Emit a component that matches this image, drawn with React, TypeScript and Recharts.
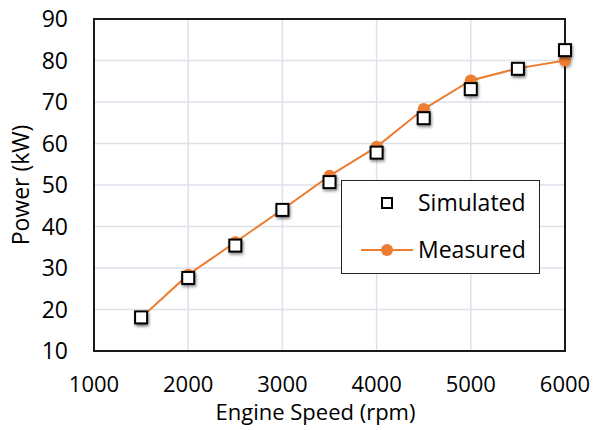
import React from "react";
import {
  ComposedChart,
  Line,
  XAxis,
  YAxis,
  CartesianGrid,
  ReferenceArea,
} from "recharts";

const speeds = [1500, 2000, 2500, 3000, 3500, 4000, 4500, 5000, 5500, 6000];
const simulated = [18.1, 27.6, 35.4, 44.0, 50.7, 57.8, 66.1, 73.1, 78.0, 82.5];
const measured = [18.0, 28.4, 36.2, 44.1, 52.2, 59.2, 68.3, 75.2, 78.1, 80.0];
const xTicks = [1000, 2000, 3000, 4000, 5000, 6000];
const yTicks = [10, 20, 30, 40, 50, 60, 70, 80, 90];
const seriesNames = ["Simulated", "Measured"];

const data = speeds.map((s, i) => ({ speed: s, sim: simulated[i], meas: measured[i] }));

const ORANGE = "#ED7D31";
const FONT = "'Open Sans', sans-serif";

const SquareDot = (props: any) => {
  const { cx, cy, index } = props;
  if (cx == null || cy == null) return null;
  return (
    <rect
      key={`sq-${index}`}
      x={cx - 6}
      y={cy - 6}
      width={12}
      height={12}
      fill="#fff"
      stroke="#000"
      strokeWidth={2}
      style={{ filter: "drop-shadow(1px 2px 1.5px rgba(0,0,0,0.45))" }}
    />
  );
};

const CircleDot = (props: any) => {
  const { cx, cy, index } = props;
  if (cx == null || cy == null) return null;
  return (
    <circle
      key={`c-${index}`}
      cx={cx}
      cy={cy}
      r={6}
      fill={ORANGE}
      stroke="none"
      style={{ filter: "drop-shadow(1px 2px 1.5px rgba(0,0,0,0.35))" }}
    />
  );
};

const LegendBox = () => (
  <svg width={199} height={94} style={{ display: "block" }}>
    <rect x={0.5} y={0.5} width={198} height={93} fill="#fff" stroke="#222" strokeWidth={1} />
    <rect x={41} y={18} width={10} height={10} fill="#fff" stroke="#000" strokeWidth={2} />
    <text x={77} y={31} fontFamily={FONT} fontSize={23} fill="#000">{seriesNames[0]}</text>
    <line x1={20} y1={70} x2={72} y2={70} stroke={ORANGE} strokeWidth={2} />
    <circle cx={46} cy={70} r={6} fill={ORANGE} />
    <text x={77} y={78} fontFamily={FONT} fontSize={23} fill="#000">{seriesNames[1]}</text>
  </svg>
);

export default function App() {
  return (
    <div style={{ position: "absolute", left: 0, top: 0, width: 593, height: 430, background: "#fff" }}>
      <ComposedChart
        width={593}
        height={430}
        data={data}
        margin={{ top: 19, right: 28, left: 0, bottom: 0 }}
      >
        <CartesianGrid stroke="#dde1e8" strokeWidth={1.5} />
        <XAxis
          dataKey="speed"
          type="number"
          domain={[1000, 6000]}
          ticks={xTicks}
          interval={0}
          height={79}
          axisLine={false}
          tickLine={false}
          tickSize={0}
          tickMargin={25}
          tick={{ fontFamily: FONT, fontSize: 22, fill: "#000" }}
          label={(p: any) => {
            const vb = p.viewBox;
            return (
              <text
                x={vb.x + vb.width / 2 - 14}
                y={420}
                textAnchor="middle"
                fontFamily={FONT}
                fontSize={22}
                fill="#000"
              >
                Engine Speed (rpm)
              </text>
            );
          }}
        />
        <YAxis
          type="number"
          domain={[10, 90]}
          ticks={yTicks}
          interval={0}
          width={94}
          axisLine={false}
          tickLine={false}
          tickSize={0}
          tickMargin={26}
          tick={{ fontFamily: FONT, fontSize: 23, fill: "#000" }}
          label={(p: any) => {
            const vb = p.viewBox;
            const cy = vb.y + vb.height / 2;
            return (
              <text
                x={20}
                y={cy}
                transform={`rotate(-90, 20, ${cy})`}
                textAnchor="middle"
                dominantBaseline="central"
                fontFamily={FONT}
                fontSize={23}
                fill="#000"
              >
                Power (kW)
              </text>
            );
          }}
        />
        <ReferenceArea
          x1={1000}
          x2={6000}
          y1={10}
          y2={90}
          fill="none"
          stroke="#1a1a1a"
          strokeWidth={2}
          ifOverflow="extendDomain"
        />
        <Line
          dataKey="meas"
          stroke={ORANGE}
          strokeWidth={2}
          dot={<CircleDot />}
          activeDot={false}
          isAnimationActive={false}
        />
        <Line
          dataKey="sim"
          stroke="none"
          dot={<SquareDot />}
          activeDot={false}
          isAnimationActive={false}
        />
      </ComposedChart>
      <div style={{ position: "absolute", left: 341, top: 180, width: 199, height: 94 }}>
        <LegendBox />
      </div>
    </div>
  );
}
